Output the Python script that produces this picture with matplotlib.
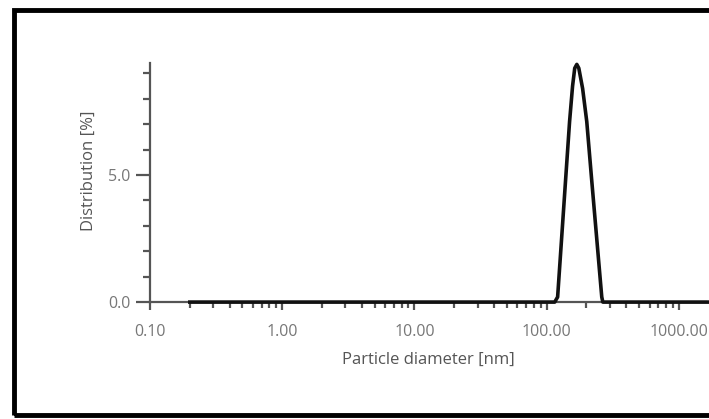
import matplotlib.pyplot as plt
import numpy as np
from matplotlib.patches import Rectangle
from matplotlib.ticker import FixedLocator, LogLocator, NullFormatter


# size distribution
diameter = [0.2, 115, 121, 139, 149, 157, 163, 169, 175, 187, 201, 219, 261, 266, 2000]
distribution = [0.0, 0.0, 0.2, 4.8, 7.1, 8.5, 9.2, 9.35, 9.2, 8.4, 7.1, 4.8, 0.2, 0.0, 0.0]

xticks = [0.1, 1, 10, 100, 1000]
xticklabels = ['0.10', '1.00', '10.00', '100.00', '1000.00']
yticks = [0.0, 5.0]
yticklabels = ['0.0', '5.0']

plt.rcParams['font.family'] = ['Open Sans', 'DejaVu Sans']

fig = plt.figure(figsize=(7.09, 4.19), dpi=100)
ax = fig.add_axes([0.2116, 0.279, 0.784, 0.571])

ax.plot(diameter, distribution, color='#111111', lw=2.6, solid_joinstyle='round',
        clip_on=False, zorder=3)

ax.set_xscale('log')
ax.set_xlim(0.1, 1600)
ax.set_ylim(0, 9.41)

ax.set_xticks(xticks)
ax.set_xticklabels(xticklabels)
ax.xaxis.set_minor_locator(LogLocator(base=10, subs=np.arange(2, 10)))
ax.xaxis.set_minor_formatter(NullFormatter())
ax.set_yticks(yticks)
ax.set_yticklabels(yticklabels)
ax.yaxis.set_minor_locator(FixedLocator([1, 2, 3, 4, 6, 7, 8, 9]))

for s in ['top', 'right']:
    ax.spines[s].set_visible(False)
for s in ['left', 'bottom']:
    ax.spines[s].set_color('#555555')
    ax.spines[s].set_linewidth(1.6)

ax.tick_params(axis='both', which='major', colors='#555555', labelcolor='#777777',
               labelsize=11.5, width=1.6)
ax.tick_params(axis='y', which='major', length=10, pad=4)
ax.tick_params(axis='y', which='minor', length=5, width=1.6, colors='#555555')
ax.tick_params(axis='x', which='major', length=6, pad=10)
ax.tick_params(axis='x', which='minor', length=4, width=1.6, colors='#555555')

ax.set_xlabel('Particle diameter [nm]', fontsize=12, color='#555555', labelpad=8)
ax.set_ylabel('Distribution [%]', fontsize=12, color='#555555')
ax.yaxis.set_label_coords(-0.095, 0.55)

# black frame around the whole picture
fig.patches.append(Rectangle((0.0197, 0.0095), 1.0, 0.9665, transform=fig.transFigure,
                             fill=False, edgecolor='black', lw=3.5))

fig.savefig('out.png', dpi=100)
